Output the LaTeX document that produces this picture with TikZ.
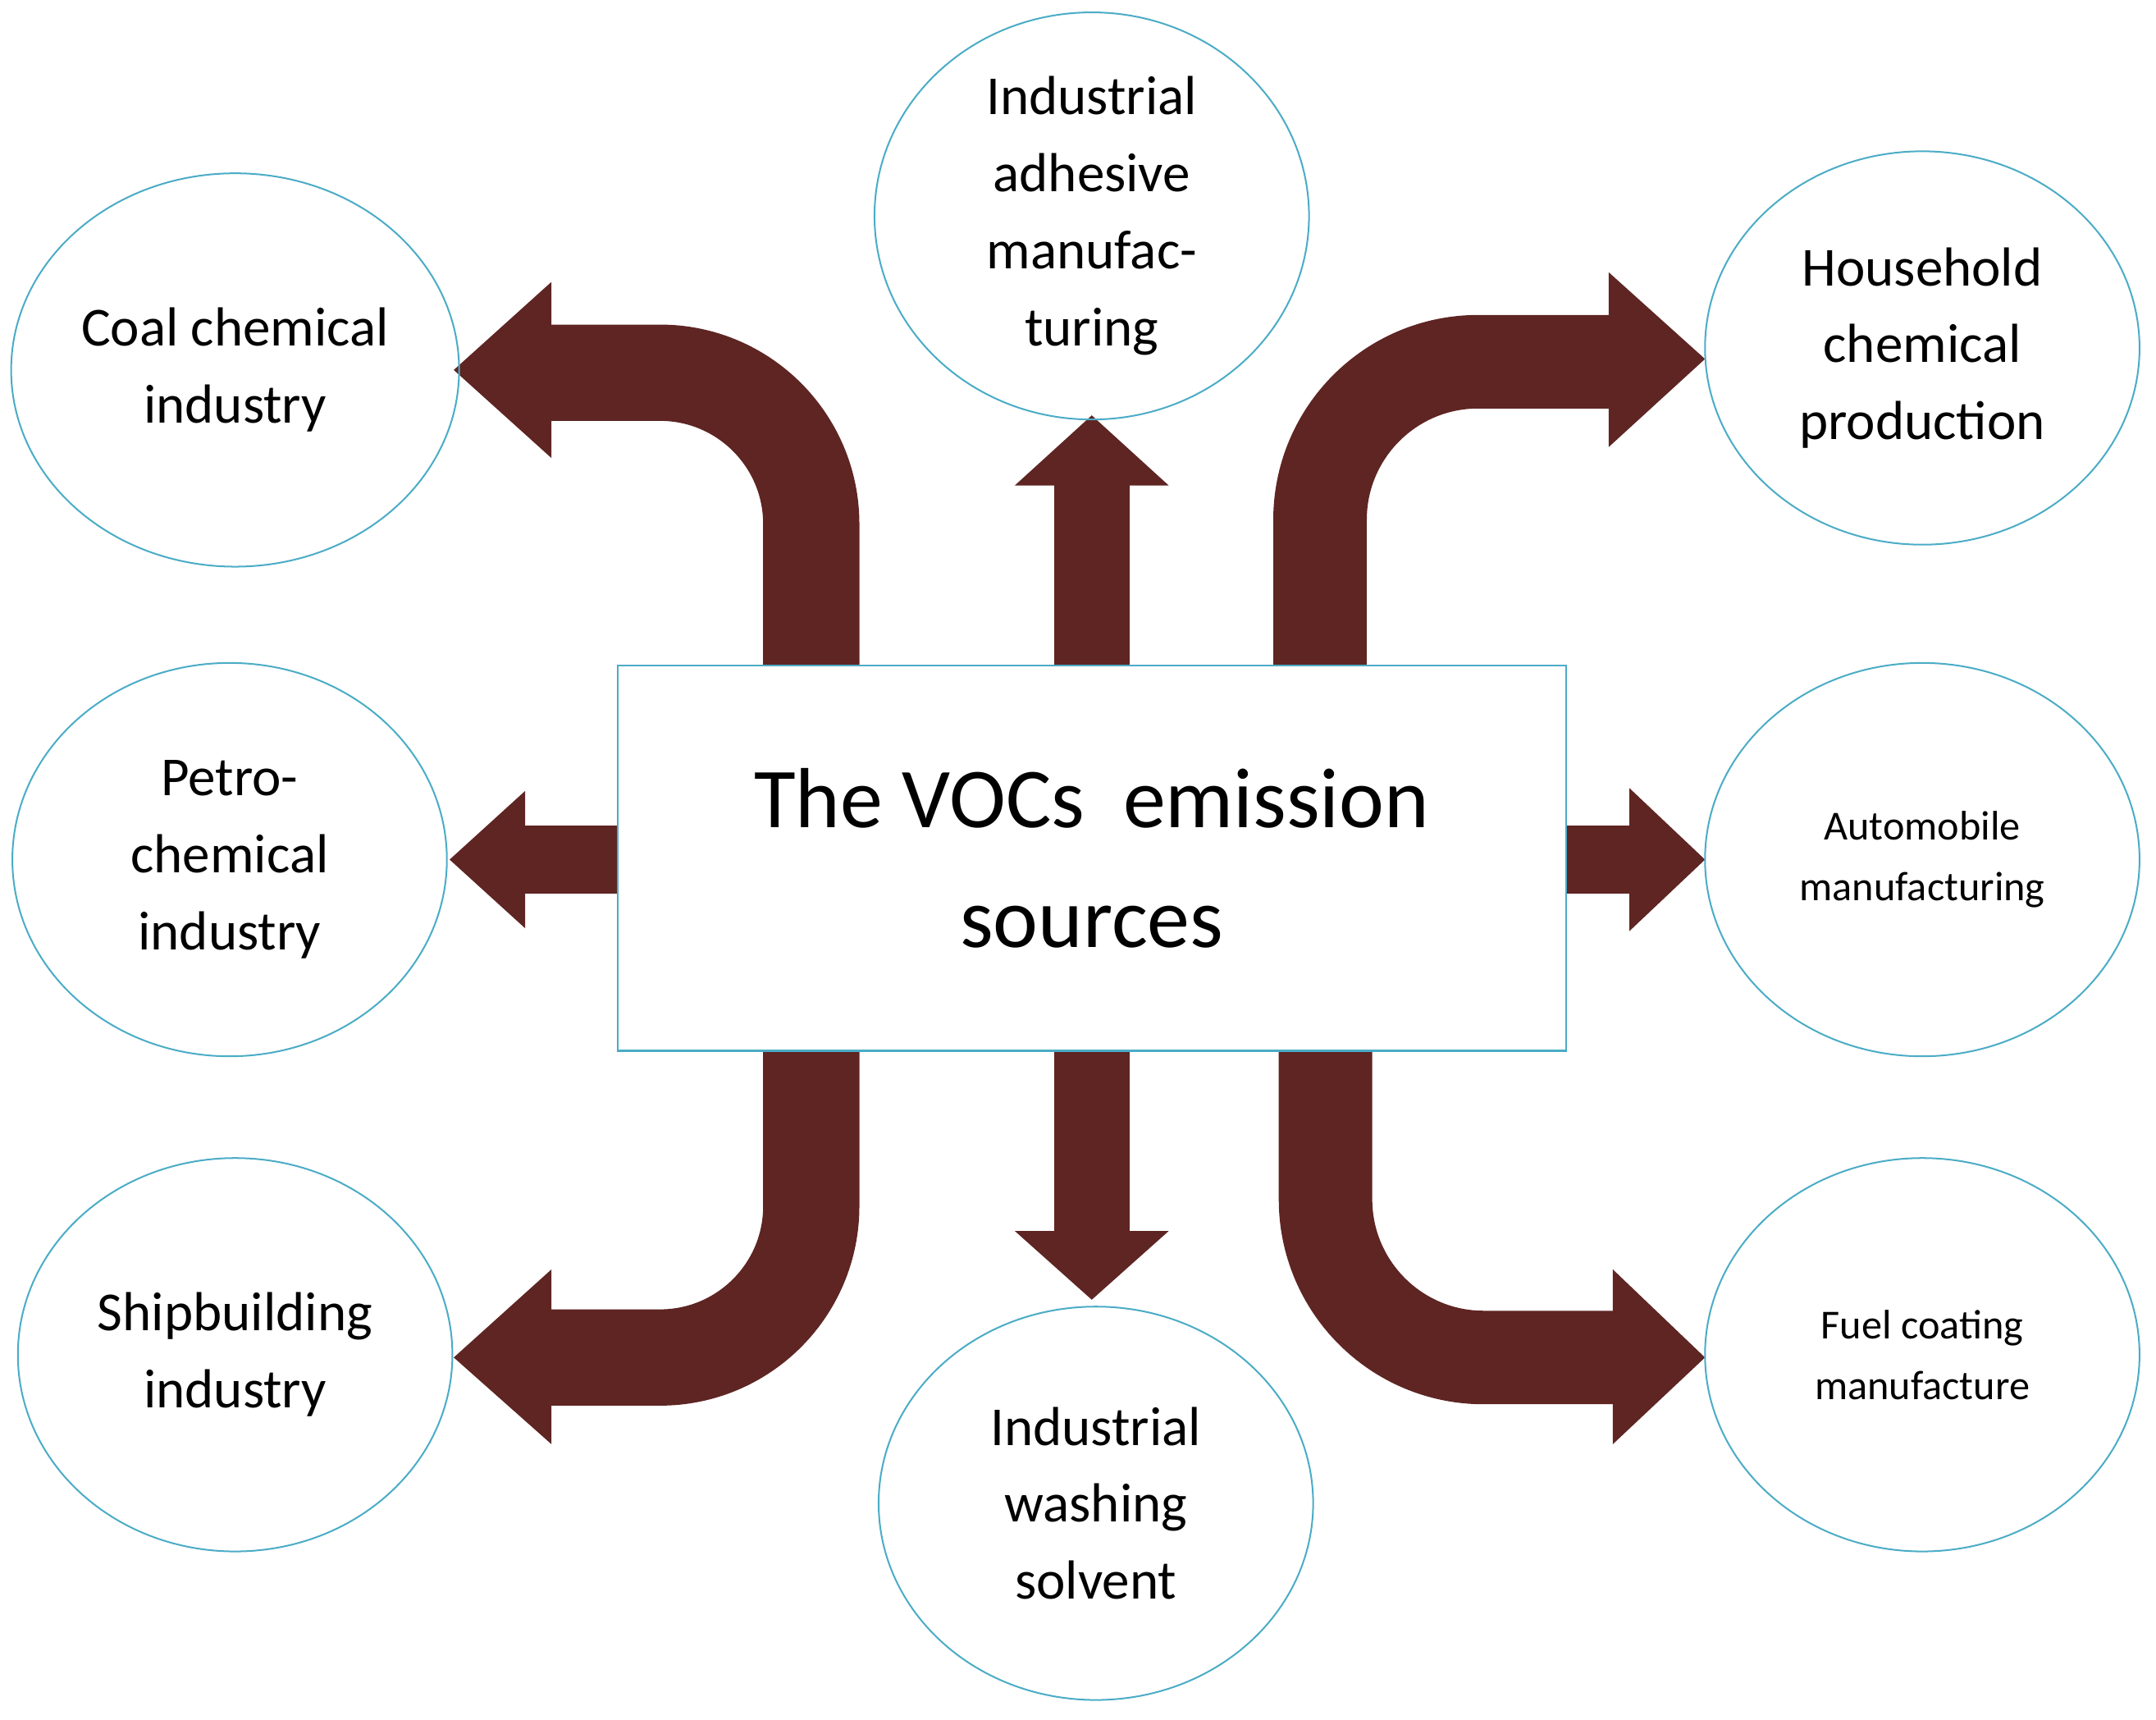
\documentclass[tikz,border=0pt]{standalone}
\usepackage{fontspec}
\setmainfont{Carlito}
\usetikzlibrary{shapes.geometric}
\definecolor{arr}{RGB}{94,37,35}
\definecolor{edge}{RGB}{75,172,198}
\begin{document}
\begin{tikzpicture}[x=1pt,y=-1pt,
  ell/.style={ellipse,draw=edge,line width=1.2pt,minimum width=316pt,minimum height=286pt,align=center,font=\fontsize{40}{56}\selectfont},
  small/.style={font=\fontsize{30}{44}\selectfont},
  shaft/.style={draw=arr,line cap=butt},
  head/.style={fill=arr,draw=none}]
\useasboundingbox (0,0) rectangle (1568,1250);
% arrows
\draw[shaft,line width=70pt,rounded corners=110pt] (590,485)--(590,271)--(401,271);
\fill[head] (401,205)--(330,269)--(401,333)--cycle;
\draw[shaft,line width=68pt,rounded corners=115pt] (960,485)--(960,263)--(1171,263);
\fill[head] (1170,198)--(1240,261)--(1170,325)--cycle;
\draw[shaft,line width=55pt] (794,485)--(794,352);
\fill[head] (738,353)--(794,302)--(850,353)--cycle;
\draw[shaft,line width=50pt] (450,625)--(381,625);
\fill[head] (382,575)--(327,625)--(382,675)--cycle;
\draw[shaft,line width=50pt] (1138,625)--(1186,625);
\fill[head] (1185,573)--(1240,625)--(1185,677)--cycle;
\draw[shaft,line width=55pt] (794,763)--(794,896);
\fill[head] (738,895)--(794,945)--(850,895)--cycle;
\draw[shaft,line width=70pt,rounded corners=110pt] (590,763)--(590,987)--(401,987);
\fill[head] (401,923)--(330,987)--(401,1050)--cycle;
\draw[shaft,line width=68pt,rounded corners=115pt] (964,763)--(964,987)--(1174,987);
\fill[head] (1173,923)--(1240,987)--(1173,1050)--cycle;
% central box
\node[draw=edge,fill=white,line width=1.2pt,minimum width=690pt,minimum height=280pt,align=center,font=\fontsize{62}{87}\selectfont] (box) at (794,624) {The VOCs\ \ emission\\sources};
% ellipses
\node[ell] (coal) at (171,269) {Coal chemical\\industry};
\node[ell] (adh) at (794,157) {Industrial\\adhesive\\manufac-\\turing};
\node[ell] (house) at (1398,253) {Household\\chemical\\production};
\node[ell] (petro) at (167,625) {Petro-\\chemical\\industry};
\node[ell,small] (auto) at (1398,625) {Automobile\\manufacturing};
\node[ell] (ship) at (171,985) {Shipbuilding\\industry};
\node[ell] (wash) at (797,1093) {Industrial\\washing\\solvent};
\node[ell,small] (fuel) at (1398,985) {Fuel coating\\manufacture};
\end{tikzpicture}
\end{document}
